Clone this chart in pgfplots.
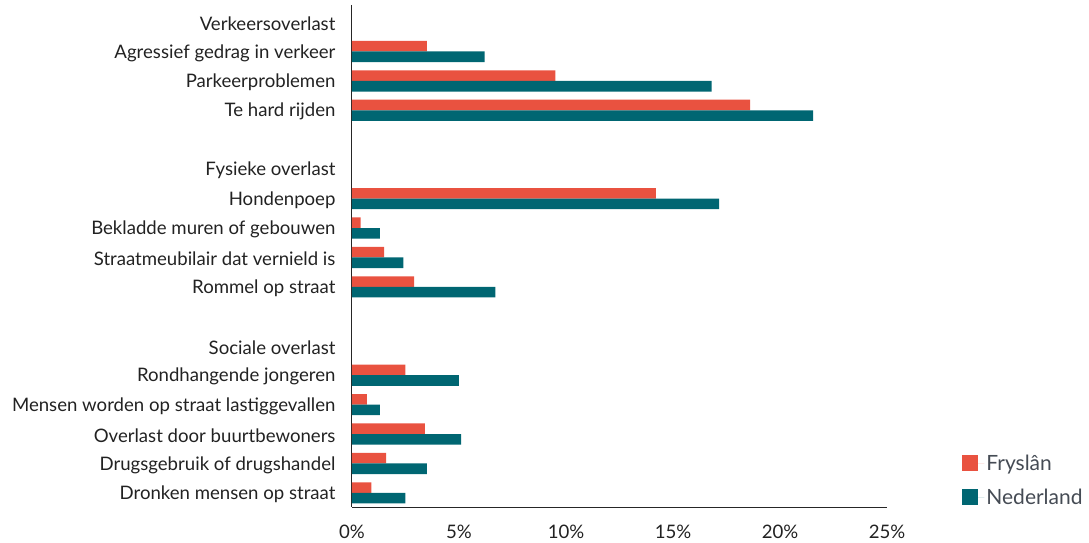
\documentclass[border=0pt]{standalone}
\usepackage{pgfplots}
\pgfplotsset{compat=1.18}
\usepackage{fontspec}
\setmainfont{Lato}
\definecolor{fry}{HTML}{E95240}
\definecolor{ned}{HTML}{006672}
\definecolor{txt}{HTML}{222222}
\definecolor{legtxt}{HTML}{454B54}
\begin{document}
\begin{tikzpicture}[font=\fontsize{18.6}{22}\selectfont]
\begin{axis}[
  xbar, scale only axis, width=535pt, height=502pt,
  xmin=0, xmax=25, ymin=-0.58, ymax=16.48, y dir=reverse,
  axis x line*=bottom, axis y line*=left,
  axis line style={-, black!85, line width=1pt},
  xtick={0,5,10,15,20,25},
  xticklabels={0\%,5\%,10\%,15\%,20\%,25\%},
  ytick={0,1,2,3,5,6,7,8,9,11,12,13,14,15,16},
  yticklabels={Verkeersoverlast,Agressief gedrag in verkeer,Parkeerproblemen,Te hard rijden,Fysieke overlast,Hondenpoep,Bekladde muren of gebouwen,Straatmeubilair dat vernield is,Rommel op straat,Sociale overlast,Rondhangende jongeren,Mensen worden op straat lastiggevallen,Overlast door buurtbewoners,Drugsgebruik of drugshandel,Dronken mensen op straat},
  major tick length=0pt,
  tick label style={text=txt},
  yticklabel style={xshift=-13pt, yshift=-1.5pt},
  xticklabel style={inner ysep=0pt, yshift=-18pt},
  bar width=0.36,
  legend style={at={(rel axis cs:1.135,-0.006)}, anchor=south west, draw=none, fill=none,
    text=legtxt, row sep=13pt, font=\fontsize{21}{25}\selectfont},
  legend cell align=left,
  legend image code/.code={\fill[#1] (0pt,-7.5pt) rectangle (16pt,8.5pt); \path (0pt,0pt) -- (22pt,0pt);},
]
\addplot[fill=fry, draw=none, bar shift=-0.18] coordinates {
(3.5,1) (9.5,2) (18.6,3) (14.2,6) (0.4,7) (1.5,8) (2.9,9)
(2.5,12) (0.7,13) (3.4,14) (1.6,15) (0.9,16)};
\addplot[fill=ned, draw=none, bar shift=0.18] coordinates {
(6.2,1) (16.8,2) (21.55,3) (17.15,6) (1.3,7) (2.4,8) (6.7,9)
(5.0,12) (1.3,13) (5.1,14) (3.5,15) (2.5,16)};
\legend{Fryslân,Nederland}
\end{axis}
\path ([xshift=-352pt,yshift=-36pt]current axis.south west) rectangle ([xshift=202pt,yshift=5pt]current axis.north east);
\end{tikzpicture}
\end{document}
